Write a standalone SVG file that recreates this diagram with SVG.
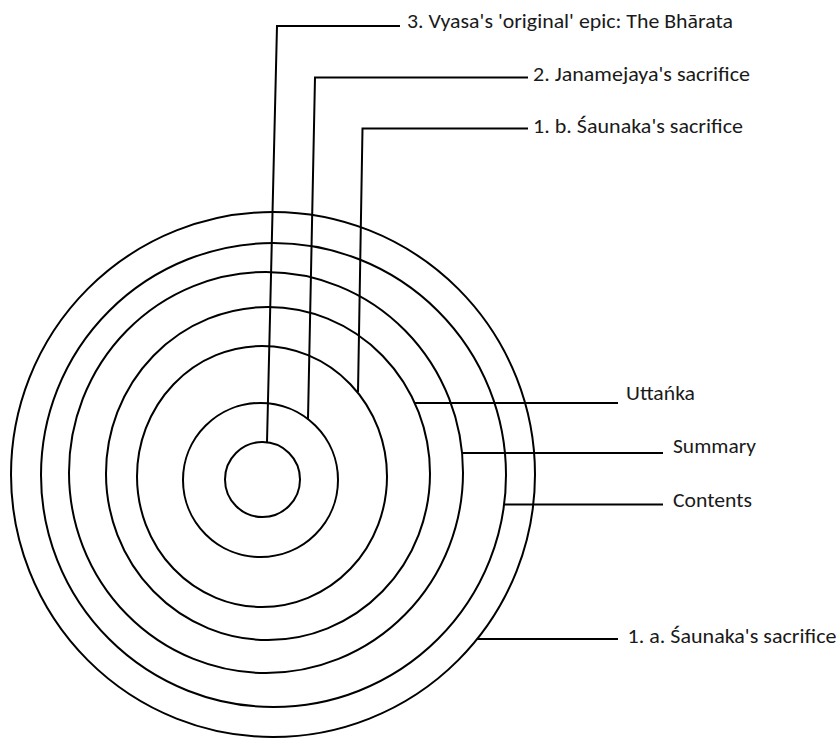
<svg xmlns="http://www.w3.org/2000/svg" width="840" height="739" viewBox="0 0 840 739">
<style>
.ring{fill:none;stroke:#000;stroke-width:2}
.lead{fill:none;stroke:#000;stroke-width:2;stroke-linejoin:miter}
.lbl{font-family:Carlito,Lato,"Open Sans",sans-serif;font-size:21px;fill:#1a1a1a}
</style>
<rect width="840" height="739" fill="#fff"/>
<g id="ring7-saunaka-a">
<ellipse class="ring" cx="273" cy="474.5" rx="262" ry="262.5"/>
<text class="lbl" x="627.5" y="643" textLength="209" lengthAdjust="spacingAndGlyphs">1. a. Śaunaka's sacrifice</text>
</g>
<g id="ring6-contents">
<ellipse class="ring" cx="273.5" cy="475" rx="232.5" ry="232"/>
<text class="lbl" x="673" y="507" textLength="79" lengthAdjust="spacingAndGlyphs">Contents</text>
</g>
<g id="ring5-summary">
<ellipse class="ring" cx="266" cy="472.5" rx="197" ry="200.5"/>
<text class="lbl" x="673" y="453" textLength="83" lengthAdjust="spacingAndGlyphs">Summary</text>
</g>
<g id="ring4-uttanka">
<ellipse class="ring" cx="268" cy="473.5" rx="162" ry="166.5"/>
<text class="lbl" x="626" y="400" textLength="69" lengthAdjust="spacingAndGlyphs">Uttańka</text>
</g>
<g id="ring3-saunaka-b">
<ellipse class="ring" cx="262" cy="476.5" rx="125" ry="130.5"/>
<text class="lbl" x="533" y="133" textLength="210" lengthAdjust="spacingAndGlyphs">1. b. Śaunaka's sacrifice</text>
</g>
<g id="ring2-janamejaya">
<ellipse class="ring" cx="260.5" cy="480" rx="77.5" ry="77"/>
<text class="lbl" x="533" y="81" textLength="217" lengthAdjust="spacingAndGlyphs">2. Janamejaya's sacrifice</text>
</g>
<g id="ring1-vyasa">
<circle class="ring" cx="262.5" cy="479.5" r="37.5"/>
<text class="lbl" x="407" y="28" textLength="326" lengthAdjust="spacingAndGlyphs">3. Vyasa's 'original' epic: The Bhārata</text>
</g>
<g id="connectors">
<polyline class="lead" points="400,26 277,26 267,442"/>
<polyline class="lead" points="528,77.5 315,77.5 308,419"/>
<polyline class="lead" points="528,128.5 362.5,128.5 358,392"/>
<line class="lead" x1="415" y1="403" x2="618" y2="403"/>
<line class="lead" x1="462" y1="453" x2="663" y2="453"/>
<line class="lead" x1="504" y1="504.5" x2="663" y2="504.5"/>
<line class="lead" x1="477" y1="639" x2="618" y2="639"/>
</g>
</svg>
